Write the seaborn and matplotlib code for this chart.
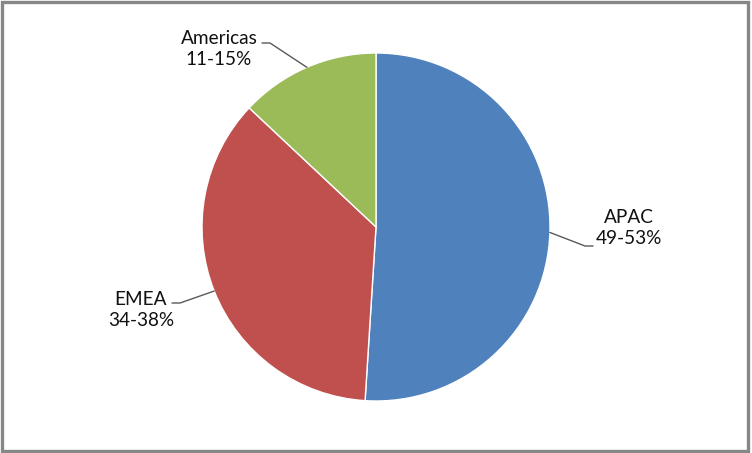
import numpy as np
import matplotlib
matplotlib.use("Agg")
import matplotlib.pyplot as plt
import seaborn as sns
from matplotlib.patches import Rectangle

# DATA
regions = ["APAC", "EMEA", "Americas"]
shares = [51, 36, 13]
range_labels = ["49-53%", "34-38%", "11-15%"]
colors = ["#4F81BD", "#C0504D", "#9BBB59"]

sns.set_theme(style="white")
plt.rcParams["font.family"] = ["Lato", "DejaVu Sans"]

W, H = 752, 453
fig = plt.figure(figsize=(W / 100, H / 100), dpi=100)
ax = fig.add_axes([0, 0, 1, 1])

cx, cy, r = 376, H - 227, 174
wedges, _ = ax.pie(
    shares, colors=colors, startangle=90, counterclock=False,
    center=(cx, cy), radius=r, frame=True,
    wedgeprops={"edgecolor": "white", "linewidth": 1},
)
ax.set_xlim(0, W)
ax.set_ylim(0, H)
ax.set_aspect("equal")
ax.axis("off")

# label layout: (text x, text y in px from top, elbow x, end x, leader y)
layout = {
    "APAC":     (629, 228, 585, 593, 246),
    "EMEA":     (141, 310, 180, 172, 303),
    "Americas": (219, 49, 270, 262, 43),
}

for w, name, rng in zip(wedges, regions, range_labels):
    tx, ty, ex, endx, ly = layout[name]
    mid = np.deg2rad((w.theta1 + w.theta2) / 2)
    sx = cx + r * np.cos(mid)
    sy = cy + r * np.sin(mid)
    ax.plot([sx, ex, endx], [sy, H - ly, H - ly], color="#595959", lw=1)
    ax.text(tx, H - ty, f"{name}\n{rng}", ha="center", va="center",
            fontsize=13.7, color="#111111", linespacing=1.3)

# outer chart frame
fig.patches.append(Rectangle((0.002, 0.004), 0.993, 0.992, transform=fig.transFigure,
                             fill=False, edgecolor="#878787", linewidth=2.4))

plt.savefig("out.png", dpi=100)
plt.close()
